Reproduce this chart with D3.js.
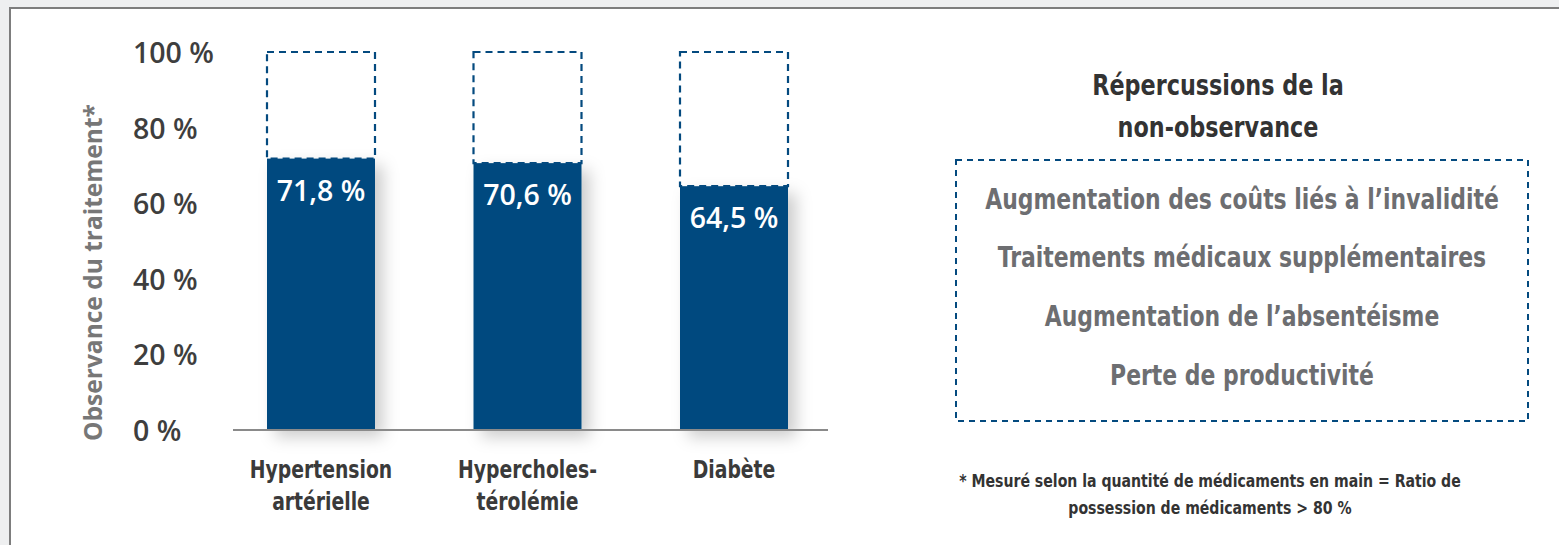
<!DOCTYPE html>
<html lang="fr">
<head>
<meta charset="utf-8">
<script src="https://cdn.jsdelivr.net/npm/d3@7"></script>
<style>
  html, body { margin: 0; padding: 0; background: #eeeff0; }
  svg { display: block; }
</style>
</head>
<body>
<svg id="chart" width="1559" height="545"></svg>
<script>
// Observance du traitement par maladie chronique
const categories = [["Hypertension", "artérielle"], ["Hypercholes-", "térolémie"], ["Diabète"]];
const observance = [71.8, 70.6, 64.5];
const yTicks = [0, 20, 40, 60, 80, 100];
const yTitle = "Observance du traitement*";
const panelTitle = ["Répercussions de la", "non-observance"];
const consequences = [
  "Augmentation des coûts liés à l’invalidité",
  "Traitements médicaux supplémentaires",
  "Augmentation de l’absentéisme",
  "Perte de productivité"
];
const footnote = [
  "* Mesuré selon la quantité de médicaments en main = Ratio de",
  "possession de médicaments > 80 %"
];

const fmt = v => d3.format(".1f")(v).replace(".", ",") + " %";

const svg = d3.select("#chart");
const blue = "#044a7f";
const condensed = "'DejaVu Sans Condensed', 'DejaVu Sans', sans-serif";
const narrow = 0.87; // horizontal squeeze for the condensed headings
const sans = "'Open Sans', 'Noto Sans', sans-serif";

// card frame
svg.append("rect")
  .attr("x", 10).attr("y", 8)
  .attr("width", 1600).attr("height", 600)
  .attr("fill", "#ffffff")
  .attr("stroke", "#7d7d7d").attr("stroke-width", 2);

const defs = svg.append("defs");
const shadow = defs.append("filter").attr("id", "barShadow")
  .attr("x", "-20%").attr("y", "-10%").attr("width", "160%").attr("height", "130%");
shadow.append("feDropShadow")
  .attr("dx", 8).attr("dy", 7).attr("stdDeviation", 8)
  .attr("flood-color", "#000").attr("flood-opacity", 0.2);

const x = d3.scaleBand()
  .domain(d3.range(categories.length))
  .range([267, 788])
  .paddingInner(0.477)
  .paddingOuter(0);

const y = d3.scaleLinear().domain([0, 100]).range([430, 52]);

// filled bars
svg.append("g").selectAll("rect")
  .data(observance)
  .join("rect")
  .attr("x", (d, i) => x(i))
  .attr("y", d => y(d))
  .attr("width", x.bandwidth())
  .attr("height", d => y(0) - y(d))
  .attr("fill", blue)
  .attr("filter", "url(#barShadow)");

// dashed remainder up to 100 %
svg.append("g").selectAll("rect")
  .data(observance)
  .join("rect")
  .attr("x", (d, i) => x(i))
  .attr("y", y(100))
  .attr("width", x.bandwidth())
  .attr("height", d => y(d) - y(100))
  .attr("fill", "none")
  .attr("stroke", blue)
  .attr("stroke-width", 2.2)
  .attr("stroke-dasharray", "7,5");

// value labels
svg.append("g").selectAll("text")
  .data(observance)
  .join("text")
  .attr("x", (d, i) => x(i) + x.bandwidth() / 2)
  .attr("y", d => y(d) + 31)
  .attr("text-anchor", "middle")
  .attr("dominant-baseline", "central")
  .attr("fill", "#ffffff")
  .style("font-family", sans)
  .style("font-weight", 600)
  .style("font-size", "28.5px")
  .text(d => fmt(d));

// baseline
svg.append("line")
  .attr("x1", 233).attr("x2", 828)
  .attr("y1", y(0)).attr("y2", y(0))
  .attr("stroke", "#8a8a8a").attr("stroke-width", 2);

// y tick labels
svg.append("g").selectAll("text")
  .data(yTicks)
  .join("text")
  .attr("x", 133)
  .attr("y", d => y(d))
  .attr("dominant-baseline", "central")
  .attr("fill", "#3e3e3e")
  .style("font-family", sans)
  .style("font-weight", 600)
  .style("font-size", "28.5px")
  .text(d => d + " %");

// y axis title
svg.append("text")
  .attr("transform", `translate(92, ${(105 + 440) / 2}) rotate(-90)`)
  .attr("text-anchor", "middle")
  .attr("dominant-baseline", "central")
  .attr("fill", "#777777")
  .style("font-family", sans)
  .style("font-weight", 700)
  .style("font-size", "24.5px")
  .text(yTitle);

// category labels
const catG = svg.append("g").selectAll("text")
  .data(categories)
  .join("text")
  .attr("transform", (d, i) => `translate(${x(i) + x.bandwidth() / 2}, 478) scale(${narrow}, 1)`)
  .attr("text-anchor", "middle")
  .attr("fill", "#3a3a3a")
  .style("font-family", condensed)
  .style("font-weight", 700)
  .style("font-size", "24px");
catG.selectAll("tspan")
  .data(d => d)
  .join("tspan")
  .attr("x", 0)
  .attr("dy", (d, i) => i === 0 ? 0 : 32)
  .text(d => d);

// right panel: consequences of non-adherence
const panelX = 1218;
svg.append("g").selectAll("text")
  .data(panelTitle)
  .join("text")
  .attr("transform", (d, i) => `translate(${panelX}, ${95 + i * 42}) scale(${narrow}, 1)`)
  .attr("text-anchor", "middle")
  .attr("fill", "#333333")
  .style("font-family", condensed)
  .style("font-weight", 700)
  .style("font-size", "28.5px")
  .text(d => d);

svg.append("rect")
  .attr("x", 956).attr("y", 160)
  .attr("width", 1528 - 956).attr("height", 421 - 160)
  .attr("fill", "none")
  .attr("stroke", blue)
  .attr("stroke-width", 2)
  .attr("stroke-dasharray", "6,5");

const itemY = d3.scalePoint().domain(d3.range(consequences.length)).range([199, 375]);
svg.append("g").selectAll("text")
  .data(consequences)
  .join("text")
  .attr("transform", (d, i) => `translate(1242, ${itemY(i)}) scale(${narrow}, 1)`)
  .attr("text-anchor", "middle")
  .attr("dominant-baseline", "central")
  .attr("fill", "#6d6e71")
  .style("font-family", condensed)
  .style("font-weight", 700)
  .style("font-size", "28px")
  .text(d => d);

svg.append("g").selectAll("text")
  .data(footnote)
  .join("text")
  .attr("transform", (d, i) => `translate(1210, ${487 + i * 27}) scale(${narrow}, 1)`)
  .attr("text-anchor", "middle")
  .attr("fill", "#333333")
  .style("font-family", condensed)
  .style("font-weight", 700)
  .style("font-size", "18px")
  .text(d => d);
</script>
</body>
</html>
